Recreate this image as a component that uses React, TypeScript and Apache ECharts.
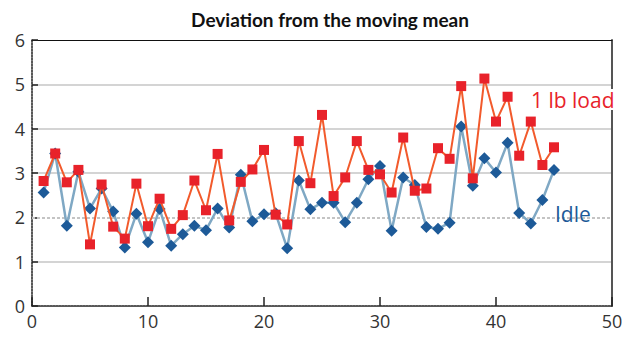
import React, { useEffect, useRef } from "react";
import * as echarts from "echarts";

const xIndex = [1,2,3,4,5,6,7,8,9,10,11,12,13,14,15,16,17,18,19,20,21,22,23,24,25,26,27,28,29,30,31,32,33,34,35,36,37,38,39,40,41,42,43,44,45];
const loadValues = [2.82,3.44,2.79,3.07,1.39,2.74,1.79,1.52,2.76,1.80,2.42,1.74,2.05,2.83,2.16,3.43,1.93,2.80,3.08,3.52,2.06,1.84,3.72,2.77,4.31,2.48,2.90,3.72,3.07,2.97,2.56,3.80,2.60,2.65,3.56,3.32,4.96,2.88,5.13,4.16,4.72,3.39,4.16,3.18,3.58];
const idleValues = [2.56,3.44,1.81,3.03,2.20,2.65,2.13,1.32,2.08,1.44,2.19,1.36,1.62,1.81,1.71,2.20,1.77,2.96,1.91,2.07,2.09,1.30,2.83,2.18,2.33,2.33,1.89,2.33,2.86,3.16,1.70,2.90,2.73,1.78,1.74,1.88,4.05,2.71,3.33,3.01,3.68,2.10,1.86,2.39,3.07];
const seriesNames = ["1 lb load", "Idle"];
const titleText = "Deviation from the moving mean";

const FONT = "'Open Sans', 'Noto Sans', sans-serif";

export default function App() {
  const ref = useRef<HTMLDivElement>(null);
  useEffect(() => {
    if (!ref.current) return;
    const chart = echarts.init(ref.current, null, { renderer: "svg" });
    const pair = (vals: number[]) => xIndex.map((x, i) => [x, vals[i]]);
    chart.setOption({
      animation: false,
      backgroundColor: "#fff",
      title: {
        text: titleText,
        left: 325,
        top: 5,
        textAlign: "center",
        textStyle: { fontFamily: "Lato, 'Open Sans', sans-serif", fontWeight: "bold", fontSize: 19, color: "#111" },
      },
      grid: { left: 32, right: 28, top: 40, bottom: 38 },
      xAxis: [
        {
          type: "value",
          min: 0,
          max: 50,
          interval: 10,
          axisLine: { show: true, lineStyle: { color: "#222", type: [2, 1], width: 1.5 } },
          axisTick: { show: true, inside: true, length: 9, lineStyle: { color: "#222", width: 1.5 } },
          axisLabel: { fontFamily: FONT, fontSize: 18, color: "#333", margin: 6 },
          splitLine: { show: false },
        },
        {
          type: "value",
          position: "top",
          min: 0,
          max: 50,
          axisLine: { show: true, onZero: false, lineStyle: { color: "#111", width: 1 } },
          axisTick: { show: false },
          axisLabel: { show: false },
          splitLine: { show: false },
        },
      ],
      yAxis: [
        {
          type: "value",
          min: 0,
          max: 6,
          interval: 1,
          axisLine: { show: true, lineStyle: { color: "#222", type: [2, 1], width: 1.5 } },
          axisTick: { show: true, inside: true, length: 6, lineStyle: { color: "#222", width: 1.5 } },
          axisLabel: { fontFamily: FONT, fontSize: 18, color: "#333", margin: 7 },
          splitLine: {
            show: true,
            lineStyle: {
              color: ["transparent", "#d4d4d4", "transparent", "#d4d4d4", "#d4d4d4", "#d4d4d4", "transparent"],
              width: 2,
            },
          },
        },
        {
          type: "value",
          position: "right",
          min: 0,
          max: 6,
          axisLine: { show: true, onZero: false, lineStyle: { color: "#555", width: 2 } },
          axisTick: { show: false },
          axisLabel: { show: false },
          splitLine: { show: false },
        },
      ],
      series: [
        {
          name: seriesNames[1],
          type: "line",
          data: pair(idleValues),
          symbol: "diamond",
          symbolSize: 12,
          itemStyle: { color: "#1d5a98" },
          lineStyle: { color: "#7fa8c4", width: 2.5 },
          markLine: {
            silent: true,
            symbol: "none",
            label: { show: false },
            lineStyle: { color: "#c4c4c4", type: [3, 2], width: 2 },
            data: [{ yAxis: 2 }],
            z: 1,
          },
          z: 2,
        },
        {
          name: seriesNames[0],
          type: "line",
          data: pair(loadValues),
          symbol: "rect",
          symbolSize: 10,
          itemStyle: { color: "#e8222a" },
          lineStyle: { color: "#f25a2c", width: 2 },
          z: 3,
        },
      ],
      graphic: [
        {
          type: "text",
          left: 530,
          top: 89,
          z: 100,
          style: {
            text: seriesNames[0],
            fill: "#e8222a",
            font: `21px ${FONT}`,
            backgroundColor: "#fff",
            padding: [0, 1],
          },
        },
        {
          type: "text",
          left: 555,
          top: 203,
          z: 100,
          style: {
            text: seriesNames[1],
            fill: "#1d5a98",
            font: `21px ${FONT}`,
          },
        },
      ],
    });
    return () => chart.dispose();
  }, []);
  return <div ref={ref} style={{ width: 640, height: 344, margin: -8 }} />;
}
